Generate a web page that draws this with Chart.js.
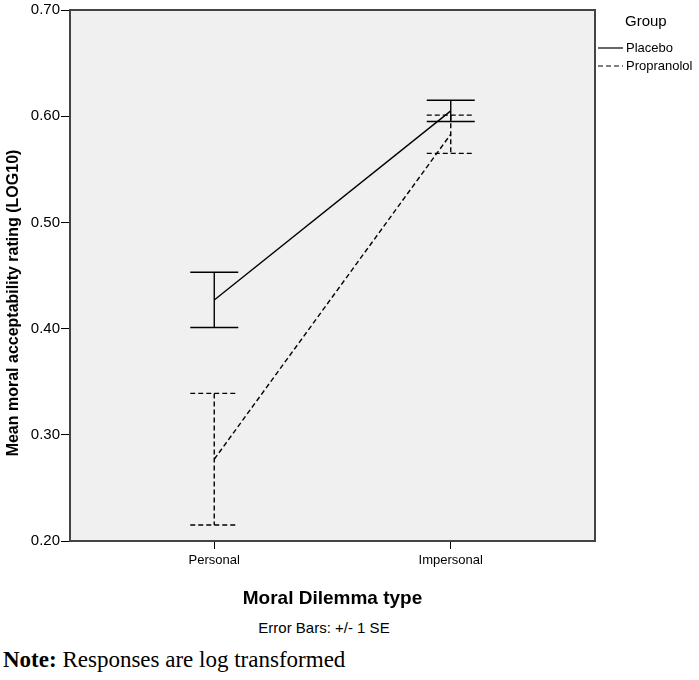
<!DOCTYPE html>
<html>
<head>
<meta charset="utf-8">
<script src="https://cdn.jsdelivr.net/npm/chart.js@4"></script>
<style>
  body { margin: 0; background: #fff; }
  #wrap { position: relative; width: 699px; height: 680px; }
  #chart { position: absolute; left: 0; top: 0; }
  .sub { position: absolute; left: 224px; width: 200px; top: 619px; text-align: center;
         font-family: 'Liberation Sans', Arial, sans-serif; font-size: 15px; color: #000; }
  .note { position: absolute; left: 3px; top: 647px;
          font-family: 'Liberation Serif', 'Times New Roman', serif; font-size: 23px; color: #000; }
</style>
</head>
<body>
<div id="wrap">
  <canvas id="chart" width="699" height="610"></canvas>
  <div class="sub">Error Bars: +/- 1 SE</div>
  <div class="note"><b>Note:</b> Responses are log transformed</div>
</div>
<script>
// Data
const categories = ['Personal', 'Impersonal'];
const groups = ['Placebo', 'Propranolol'];
const placeboMean = [0.427, 0.605];
const placeboSE = [0.026, 0.010];
const propranololMean = [0.277, 0.583];
const propranololSE = [0.062, 0.018];
const yTicks = [0.20, 0.30, 0.40, 0.50, 0.60, 0.70];

const dashes = [null, [5, 3]];
const means = [placeboMean, propranololMean];
const ses = [placeboSE, propranololSE];
const FONT = "'Liberation Sans', Arial, sans-serif";

// Grey plot background + frame
const frame = {
  id: 'frame',
  beforeDraw(chart) {
    const { ctx, chartArea: a } = chart;
    ctx.save();
    ctx.fillStyle = '#f0f0f0';
    ctx.fillRect(a.left, a.top, a.right - a.left, a.bottom - a.top);
    ctx.restore();
  },
  afterDraw(chart) {
    const { ctx, chartArea: a } = chart;
    ctx.save();
    ctx.strokeStyle = '#444';
    ctx.lineWidth = 2;
    ctx.strokeRect(a.left, a.top, a.right - a.left, a.bottom - a.top);
    // y axis title, sits a bit below the middle like the original
    ctx.translate(14, 303);
    ctx.rotate(-Math.PI / 2);
    ctx.fillStyle = '#000';
    ctx.font = 'bold 16px ' + FONT;
    ctx.textAlign = 'center';
    ctx.textBaseline = 'middle';
    ctx.fillText('Mean moral acceptability rating (LOG10)', 0, 0);
    ctx.restore();
  }
};

// +/- 1 SE error bars
const errorBars = {
  id: 'errorBars',
  afterDatasetsDraw(chart) {
    const { ctx } = chart;
    const x = chart.scales.x, y = chart.scales.y;
    ctx.save();
    ctx.strokeStyle = '#000';
    ctx.lineWidth = 1.4;
    means.forEach((m, g) => {
      ctx.setLineDash(dashes[g] || []);
      m.forEach((v, i) => {
        const px = x.getPixelForValue(i + 1);
        const top = y.getPixelForValue(v + ses[g][i]);
        const bot = y.getPixelForValue(v - ses[g][i]);
        ctx.beginPath();
        ctx.moveTo(px, top); ctx.lineTo(px, bot);
        ctx.moveTo(px - 24, top); ctx.lineTo(px + 24, top);
        ctx.moveTo(px - 24, bot); ctx.lineTo(px + 24, bot);
        ctx.stroke();
      });
    });
    ctx.restore();
  }
};

// Legend on the right of the plot
const groupLegend = {
  id: 'groupLegend',
  afterDraw(chart) {
    const { ctx, chartArea: a } = chart;
    ctx.save();
    ctx.fillStyle = '#000';
    ctx.textBaseline = 'middle';
    ctx.font = '15px ' + FONT;
    ctx.fillText('Group', a.right + 30, 22);
    ctx.font = '13px ' + FONT;
    groups.forEach((name, g) => {
      const yy = 48 + g * 18;
      ctx.strokeStyle = '#000';
      ctx.lineWidth = 1.2;
      ctx.setLineDash(dashes[g] || []);
      ctx.beginPath();
      ctx.moveTo(a.right + 3, yy); ctx.lineTo(a.right + 28, yy);
      ctx.stroke();
      ctx.fillText(name, a.right + 31, yy);
    });
    ctx.restore();
  }
};

new Chart(document.getElementById('chart'), {
  type: 'scatter',
  data: {
    datasets: groups.map((name, g) => ({
      label: name,
      data: means[g].map((v, i) => ({ x: i + 1, y: v })),
      showLine: true,
      borderColor: '#000',
      borderWidth: 1.4,
      borderDash: dashes[g] || [],
      pointRadius: 0
    }))
  },
  options: {
    responsive: false,
    animation: false,
    layout: { padding: { top: 5, right: 104, left: 0, bottom: 0 } },
    plugins: { legend: { display: false }, tooltip: { enabled: false } },
    scales: {
      x: {
        type: 'linear',
        min: 0.39,
        max: 2.61,
        afterBuildTicks: s => { s.ticks = categories.map((c, i) => ({ value: i + 1 })); },
        afterFit: s => { s.height = 69; },
        ticks: {
          callback: v => categories[v - 1],
          color: '#000',
          font: { family: FONT, size: 13 },
          padding: 4,
          maxRotation: 0
        },
        grid: { drawOnChartArea: false, tickLength: 8, color: '#000' },
        border: { display: false },
        title: {
          display: true,
          text: 'Moral Dilemma type',
          color: '#000',
          font: { family: FONT, size: 19, weight: 'bold' },
          padding: { top: 6, bottom: 0 }
        }
      },
      y: {
        min: 0.2,
        max: 0.7,
        afterBuildTicks: s => { s.ticks = yTicks.map(v => ({ value: v })); },
        afterFit: s => { s.width = 70; },
        ticks: {
          callback: v => v.toFixed(2),
          color: '#000',
          font: { family: FONT, size: 15 },
          padding: 1
        },
        grid: { drawOnChartArea: false, tickLength: 9, color: '#000' },
        border: { display: false }
      }
    }
  },
  plugins: [frame, errorBars, groupLegend]
});
</script>
</body>
</html>
